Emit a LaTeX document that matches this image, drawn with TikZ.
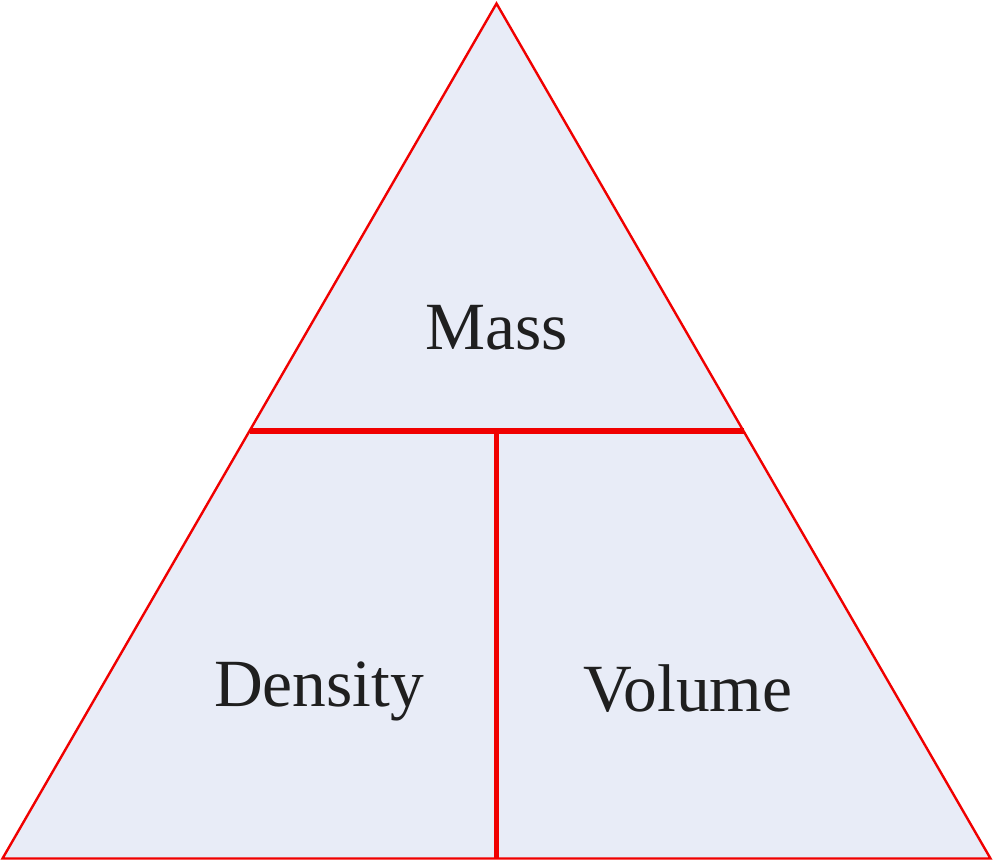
\documentclass[tikz,border=0pt]{standalone}
\usepackage{fontspec}
\setmainfont{Liberation Serif}
\definecolor{fillc}{HTML}{E8ECF7}
\definecolor{linec}{HTML}{F00000}
\begin{document}
\begin{tikzpicture}[x=1pt,y=-1pt,
  thinline/.style={draw=linec,line width=2.4pt,line join=miter},
  thickline/.style={draw=linec,line width=5.8pt},
  lbl/.style={font=\fontsize{67.5}{72}\selectfont,text=black!88,anchor=base,inner sep=0pt}]
\useasboundingbox (0,0) rectangle (994,863);
\coordinate (apex) at (496.5,3.5);
\coordinate (bl) at (2.5,858.5);
\coordinate (br) at (990.5,858.5);
\coordinate (ml) at (249.5,431);
\coordinate (mr) at (743.5,431);
\coordinate (mm) at (496.5,431);
\coordinate (mb) at (496.5,858.5);
\filldraw[fill=fillc,thinline] (apex) -- (br) -- (bl) -- cycle;
\draw[thickline] (ml) -- (mr);
\draw[thickline] (mm) -- (mb);
\node[lbl] (mass) at (497,349) {Mass};
\node[lbl] (density) at (319,706) {Density};
\node[lbl] (volume) at (688,711) {Volume};
\end{tikzpicture}
\end{document}
